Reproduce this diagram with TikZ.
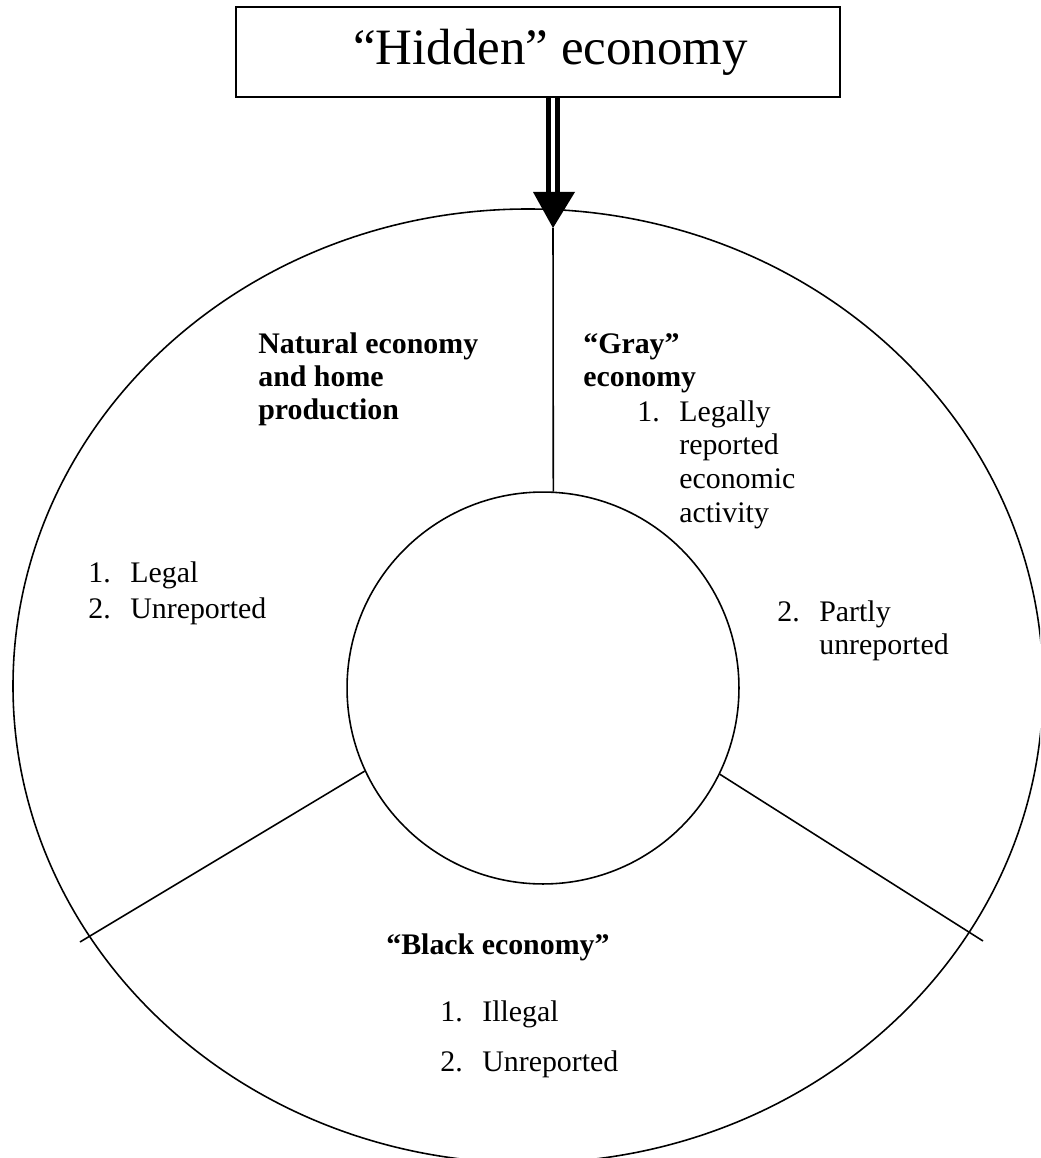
\documentclass[tikz,border=0pt]{standalone}
\usepackage{fontspec}
\setmainfont{Liberation Serif}
\usetikzlibrary{arrows.meta, positioning}

\begin{document}
\begin{tikzpicture}[x=0.02cm, y=-0.02cm,
  ring/.style={draw, line width=0.9pt},
  shaft/.style={draw, line width=2.6pt, double, double distance=2.4pt},
  txt/.style={anchor=base west, inner sep=0pt, font=\fontsize{17}{19.3}\selectfont},
  head/.style={txt, font=\fontsize{17}{18.7}\selectfont\bfseries}
]
  \useasboundingbox (0,0) rectangle (1040,1158);
  \clip (0,0) rectangle (1040,1158);

  % Title box
  \node[draw, line width=1.5pt, minimum width=12.08cm, minimum height=1.8cm,
        font=\fontsize{29}{34}\selectfont] (hidden) at (538,52) {\hspace*{0.5cm}“Hidden” economy};

  % Outer ring and core
  \draw[ring] (528,686) ellipse [x radius=515, y radius=477];
  \node[ring, circle, minimum size=7.84cm, inner sep=0pt] (core) at (543,688) {};

  % Arrow down
  \coordinate (tip) at (553,228);
  \coordinate (base) at (553,193);
  \draw[shaft] (hidden.south -| tip) -- (base);
  \fill (533,192) -- (575,192) -- (tip) -- cycle;

  % Dividers
  \coordinate (llend) at (80,942);
  \coordinate (lrend) at (983,941);
  \draw[ring] (tip) -- (core.87);
  \draw[ring] (core.205) -- (llend);
  \draw[ring] (core.-26) -- (lrend);

  % Natural economy
  \node[head] (natural) at (258,354) {\begin{tabular}[t]{@{}l@{}}Natural economy\\and home\\production\end{tabular}};
  \node[txt] (natlist) at (88,582) {\begin{tabular}[t]{@{}p{0.84cm}@{}l@{}}1.&Legal\\[1.7pt]2.&Unreported\end{tabular}};

  % Gray economy
  \node[head] (gray) at (583,354) {\begin{tabular}[t]{@{}l@{}}“Gray”\\economy\end{tabular}};
  \node[txt] (graylist) at (637,421) {\begin{tabular}[t]{@{}p{0.84cm}@{}l@{}}1.&Legally\\&reported\\&economic\\&activity\end{tabular}};
  \node[txt] (graylist2) at (777,621) {\begin{tabular}[t]{@{}p{0.84cm}@{}l@{}}2.&Partly\\&unreported\end{tabular}};

  % Black economy
  \node[head] (black) at (386,954) {“Black economy”};
  \node[txt] (blacklist) at (440,1021) {\begin{tabular}[t]{@{}p{0.84cm}@{}l@{}}1.&Illegal\\[9.6pt]2.&Unreported\end{tabular}};
\end{tikzpicture}
\end{document}
